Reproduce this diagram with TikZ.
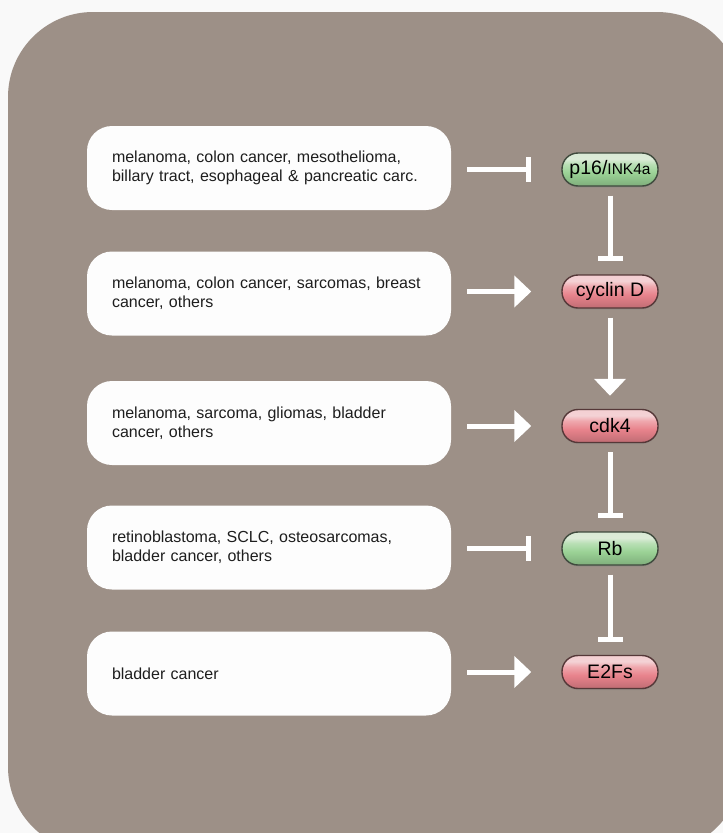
\documentclass[tikz,border=0pt]{standalone}
\usepackage{fontspec}
\setmainfont{Liberation Sans}
\usetikzlibrary{arrows.meta,shadows}

\definecolor{pagebg}{HTML}{F9F9F9}
\definecolor{panel}{HTML}{9D9087}
\definecolor{boxfill}{HTML}{FDFDFD}
\definecolor{ink}{HTML}{1E1E1E}
% green pill
\definecolor{gtop}{HTML}{DCEBD8}
\definecolor{gmid}{HTML}{9AD295}
\definecolor{gbot}{HTML}{5C8458}
\definecolor{gedge}{HTML}{3F4A3D}
% red pill
\definecolor{rtop}{HTML}{F4D2D5}
\definecolor{rmid}{HTML}{E8838C}
\definecolor{rbot}{HTML}{9A4850}
\definecolor{redge}{HTML}{553838}

% glossy vertical shadings (bottom = 0bp, top = 100bp)
\pgfdeclareverticalshading{greengloss}{100bp}{%
  color(0bp)=(gbot); color(22bp)=(gmid!80!black); color(45bp)=(gmid);
  color(58bp)=(gmid!70!white); color(66bp)=(gtop); color(100bp)=(gtop!85!gmid)}
\pgfdeclareverticalshading{redgloss}{100bp}{%
  color(0bp)=(rbot); color(22bp)=(rmid!80!black); color(45bp)=(rmid);
  color(58bp)=(rmid!70!white); color(66bp)=(rtop); color(100bp)=(rtop!85!rmid)}

\tikzset{
  tumour/.style={rectangle, rounded corners=25pt, fill=boxfill,
    minimum width=364pt, minimum height=84pt, text width=314pt,
    inner xsep=25pt, align=left, text=ink,
    font=\fontsize{16}{19}\selectfont},
  pill/.style={rectangle, rounded corners=16pt, minimum width=96pt,
    minimum height=33pt, inner sep=0pt, line width=1.4pt, text=black,
    font=\fontsize{19.5}{20}\selectfont,
    drop shadow={shadow xshift=0pt, shadow yshift=-1.5pt, opacity=0.35}},
  greenpill/.style={pill, draw=gedge, shading=greengloss},
  redpill/.style={pill, draw=redge, shading=redgloss},
  conn/.style={draw=white, line width=5pt},
  act/.style={conn, -{Triangle[length=17pt,width=31pt]}},
  inh/.style={conn, -{Bar[width=25pt]}},
  side/.style={shorten <=16pt, shorten >=30pt},
  down/.style={shorten <=9pt, shorten >=13pt}
}

\begin{document}
\begin{tikzpicture}[x=1pt,y=-1pt]
  \useasboundingbox (0,0) rectangle (723,833);
  \fill[pagebg] (0,0) rectangle (723,833);
  \begin{scope}
    \clip (0,0) rectangle (723,833);
    \fill[panel, rounded corners=85pt] (8,12) rectangle (742,852);
  \end{scope}

  % cancer types
  \node[tumour] (b1) at (269,168)   {melanoma, colon cancer, mesothelioma,\\billary tract, esophageal \& pancreatic carc.};
  \node[tumour] (b2) at (269,293.5) {melanoma, colon cancer, sarcomas, breast\\cancer, others};
  \node[tumour] (b3) at (269,423)   {melanoma, sarcoma, gliomas, bladder\\cancer, others};
  \node[tumour] (b4) at (269,547.5) {retinoblastoma, SCLC, osteosarcomas,\\bladder cancer, others};
  \node[tumour] (b5) at (269,673.5) {bladder cancer};

  % pathway
  \node[greenpill] (p16) at (610,169.5) {p16/{\fontsize{15.5}{16}\selectfont INK4a}};
  \node[redpill]   (cyc) at (610,291.5) {cyclin D};
  \node[redpill]   (cdk) at (610,426)   {cdk4};
  \node[greenpill] (rb)  at (610,548.5) {Rb};
  \node[redpill]   (e2f) at (610,672)   {E2Fs};

  % alterations acting on each protein
  \draw[inh, side] (b1.east |- p16) -- (p16.west);
  \draw[act, side] (b2.east |- cyc) -- (cyc.west);
  \draw[act, side] (b3.east |- cdk) -- (cdk.west);
  \draw[inh, side] (b4.east |- rb)  -- (rb.west);
  \draw[act, side] (b5.east |- e2f) -- (e2f.west);

  % signalling chain
  \draw[inh, down] (p16) -- (cyc);
  \draw[act, down] (cyc) -- (cdk);
  \draw[inh, down] (cdk) -- (rb);
  \draw[inh, down] (rb)  -- (e2f);
\end{tikzpicture}
\end{document}
